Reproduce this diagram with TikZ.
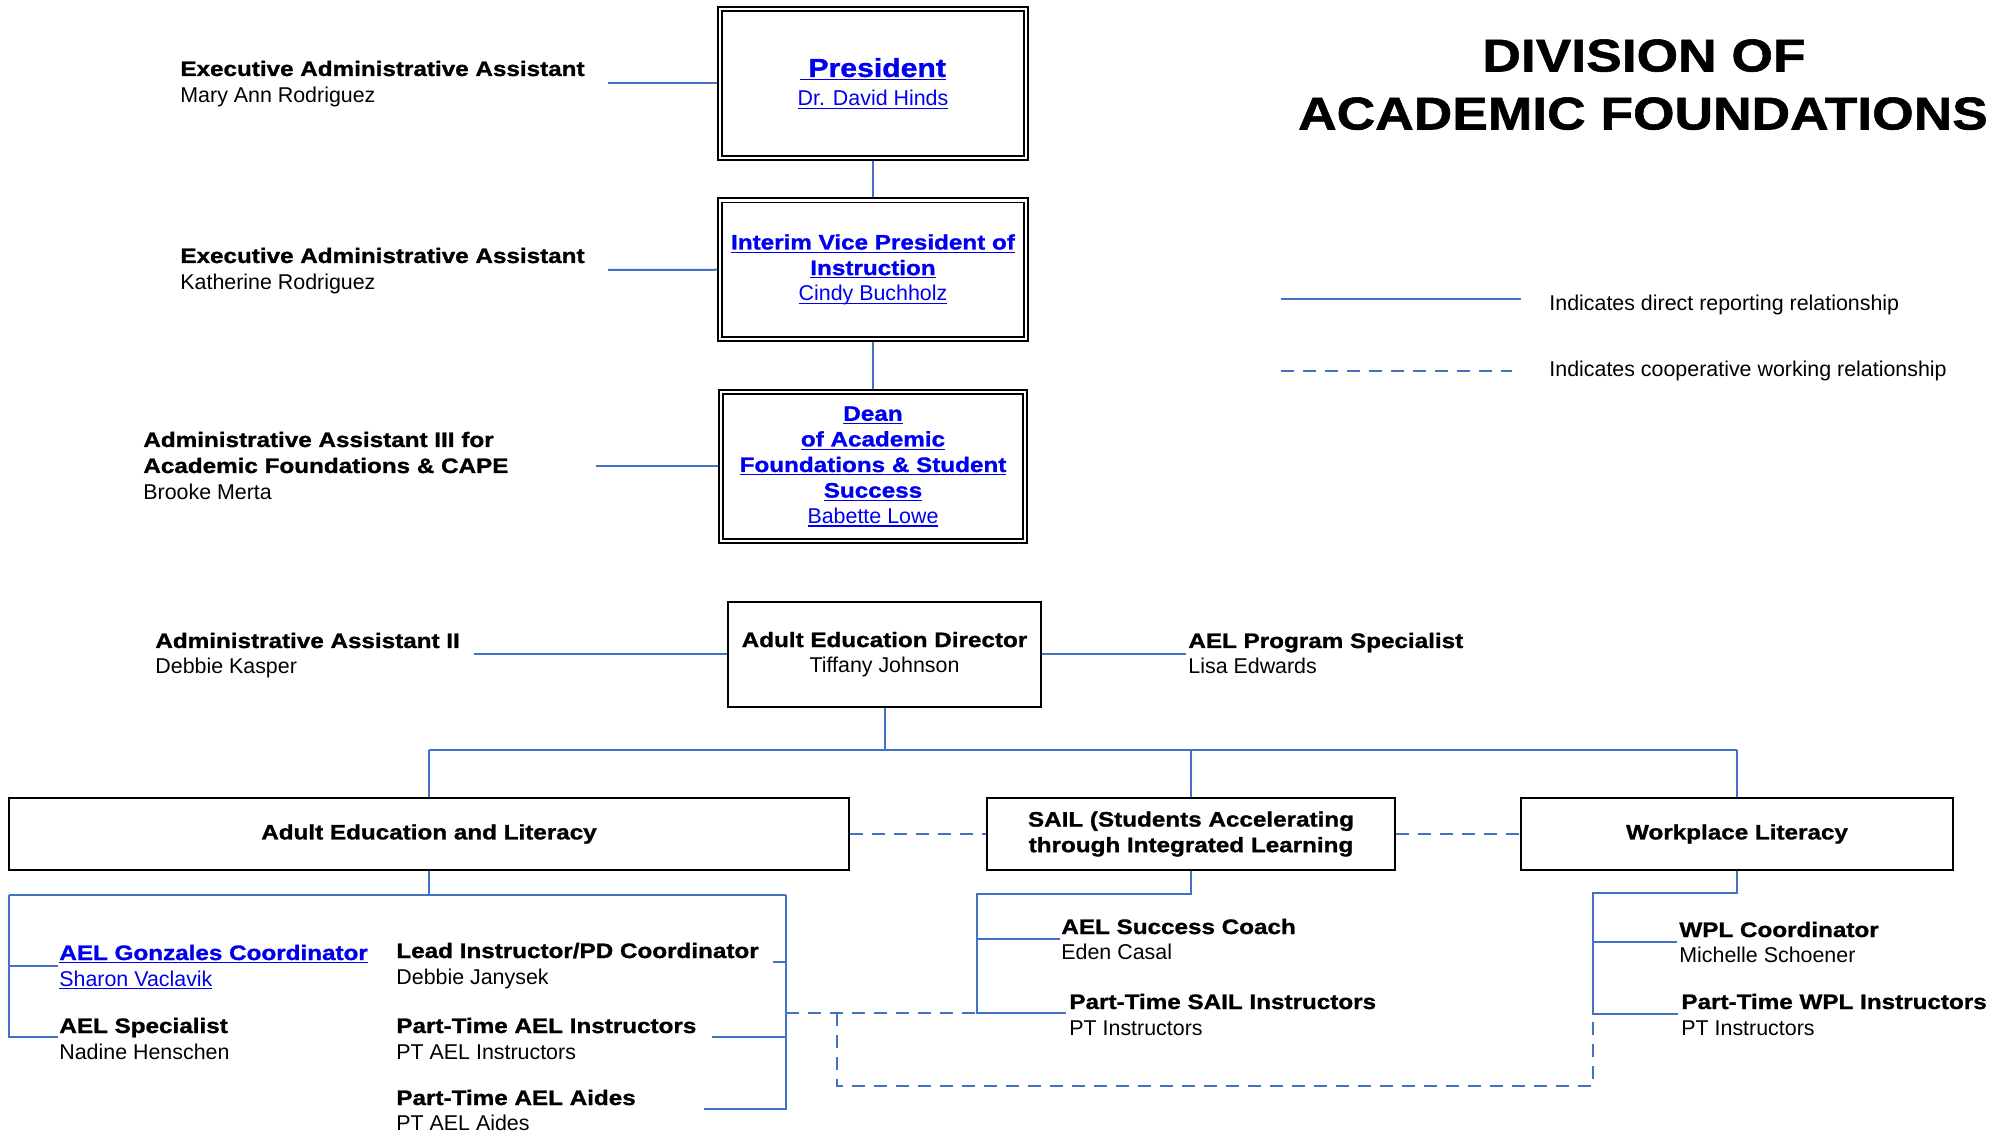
\documentclass[tikz,border=0pt]{standalone}
\usepackage{fontspec}
\setmainfont{Liberation Sans}
\newfontfamily\bfont{Liberation Sans}[FakeStretch=1.16,BoldFeatures={FakeBold=1.2}]
\definecolor{lnblue}{RGB}{68,114,196}
\definecolor{lkblue}{RGB}{0,0,238}
\newcommand\fbld{\bfont\bfseries\fontsize{10.45}{12.8}\selectfont}
\newcommand\freg{\normalfont\fontsize{10.7}{12.8}\selectfont}
\newcommand\ulk[1]{\setbox0\hbox{#1}\rlap{\rule[-1.7pt]{\wd0}{0.6pt}}\box0}
\begin{document}
\begin{tikzpicture}[x=0.5pt,y=-0.5pt,
  conn/.style={draw=lnblue, line width=1pt},
  coop/.style={draw=lnblue, line width=1pt, dash pattern=on 6.5pt off 4.5pt},
  dbox/.style={draw, double, line width=0.9pt, double distance=1.2pt, inner sep=0, outer sep=1.5pt, align=center, text=lkblue, font=\fbld},
  sbox/.style={draw, line width=1.1pt, inner sep=0, outer sep=0.55pt, align=center, font=\fbld},
  ttl/.style={anchor=base west, inner sep=0, font=\fbld},
  nme/.style={anchor=base west, inner sep=0, font=\freg},
  bigt/.style={anchor=base, inner sep=0, font=\bfont\bfseries\fontsize{23}{26}\selectfont}]
\fill[white] (0,0) rectangle (2004,1133);
\useasboundingbox (0,0) rectangle (2004,1133);

% title
\node[bigt] (t1) at (1644,71.5) {DIVISION OF};
\node[bigt] (t2) at (1643,129.5) {ACADEMIC FOUNDATIONS};

% top chain
\node[dbox, minimum width=153pt, minimum height=74.5pt] (pres) at (873,83.5)
  {\ulk{\fontsize{13}{14}\selectfont\ President}\\[1.5pt] {\freg\ulk{Dr. David Hinds}}};
\node[dbox, minimum width=153pt, minimum height=69.25pt] (vp) at (873,269.75)
  {\ulk{Interim Vice President of}\\ \ulk{Instruction}\\ {\freg\ulk{Cindy Buchholz}}};
\node[dbox, minimum width=152pt, minimum height=74.5pt] (dean) at (873,466.5)
  {\ulk{Dean}\\ \ulk{of Academic}\\ \ulk{Foundations \& Student}\\ \ulk{Success}\\ {\freg\ulk{Babette Lowe}}};

% assistants
\node[ttl] (ea1) at (180,76) {Executive Administrative Assistant};
\node[nme] (ea1n) at (180,103) {Mary Ann Rodriguez};
\node[ttl] (ea2) at (180,263) {Executive Administrative Assistant};
\node[nme] (ea2n) at (180,290) {Katherine Rodriguez};
\node[ttl] (aa3a) at (143,447) {Administrative Assistant III for};
\node[ttl] (aa3b) at (143,473) {Academic Foundations \& CAPE};
\node[nme] (aa3n) at (143,500) {Brooke Merta};

% director row
\node[sbox, minimum width=156.5pt, minimum height=52.5pt] (dir) at (884.5,654.5)
  {Adult Education Director\\ {\freg Tiffany Johnson}};
\node[ttl] (aa2) at (155,648) {Administrative Assistant II};
\node[nme] (aa2n) at (155,674) {Debbie Kasper};
\node[ttl] (aps) at (1188,648) {AEL Program Specialist};
\node[nme] (apsn) at (1188,674) {Lisa Edwards};

% programme boxes
\node[sbox, minimum width=420pt, minimum height=36pt] (ael) at (429,834) {Adult Education and Literacy};
\node[sbox, minimum width=204pt, minimum height=36pt] (sail) at (1191,834) {SAIL (Students Accelerating\\ through Integrated Learning};
\node[sbox, minimum width=216pt, minimum height=36pt] (wpl) at (1737,834) {Workplace Literacy};

% AEL staff
\node[ttl, text=lkblue] (gon) at (59,960) {\ulk{AEL Gonzales Coordinator}};
\node[nme, text=lkblue] (gonn) at (59,986) {\ulk{Sharon Vaclavik}};
\node[ttl] (spec) at (59,1033) {AEL Specialist};
\node[nme] (specn) at (59,1059) {Nadine Henschen};
\node[ttl] (lead) at (396,958) {Lead Instructor/PD Coordinator};
\node[nme] (leadn) at (396,984) {Debbie Janysek};
\node[ttl] (ptai) at (396,1033) {Part-Time AEL Instructors};
\node[nme] (ptain) at (396,1059) {PT AEL Instructors};
\node[ttl] (ptad) at (396,1105) {Part-Time AEL Aides};
\node[nme] (ptadn) at (396,1130) {PT AEL Aides};

% SAIL staff
\node[ttl] (sc) at (1061,934) {AEL Success Coach};
\node[nme] (scn) at (1061,959) {Eden Casal};
\node[ttl] (pts) at (1069,1009) {Part-Time SAIL Instructors};
\node[nme] (ptsn) at (1069,1035) {PT Instructors};

% WPL staff
\node[ttl] (wc) at (1679,937) {WPL Coordinator};
\node[nme] (wcn) at (1679,962) {Michelle Schoener};
\node[ttl] (ptw) at (1681,1009) {Part-Time WPL Instructors};
\node[nme] (ptwn) at (1681,1035) {PT Instructors};

% legend
\coordinate (l1a) at (1281,299); \coordinate (l1b) at (1521,299);
\coordinate (l2a) at (1281,371); \coordinate (l2b) at (1512,371);
\node[nme] (l1t) at (1549,311) {Indicates direct reporting relationship};
\node[nme] (l2t) at (1549,377) {Indicates cooperative working relationship};
\draw[conn] (l1a) -- (l1b);
\draw[coop] (l2a) -- (l2b);

% coordinates
\coordinate (ea1e) at (608,83.5);
\coordinate (ea2e) at (608,270);
\coordinate (aa3e) at (596,466.5);
\coordinate (aa2e) at (474,654.5);
\coordinate (apse) at (1186,654.5);
\coordinate (busL) at (429,750);
\coordinate (busR) at (1737,750);
\coordinate (aelL) at (9,895);
\coordinate (aelR) at (786,895);
\coordinate (gonE) at (58,966);
\coordinate (specE) at (58,1037);
\coordinate (leadE) at (773,962);
\coordinate (ptaiE) at (712,1037);
\coordinate (ptadE) at (704,1109);
\coordinate (sailJ) at (977,894);
\coordinate (scE) at (1060,939);
\coordinate (ptsE) at (1066,1013);
\coordinate (wplJ) at (1593,893);
\coordinate (wcE) at (1677,942);
\coordinate (ptwE) at (1678,1014);
\coordinate (cp1) at (786,1013);
\coordinate (cp2) at (837,1013);
\coordinate (cp3) at (1593,1086);

% solid connectors
\draw[conn] (pres.south) -- (vp.north);
\draw[conn] (vp.south) -- (dean.north);
\draw[conn] (ea1e) -- (pres.west);
\draw[conn] (ea2e) -- (vp.west);
\draw[conn] (aa3e) -- (dean.west);
\draw[conn] (aa2e) -- (dir.west);
\draw[conn] (dir.east) -- (apse);
\draw[conn] (dir.south) -- (dir.south |- busL);
\draw[conn] (busL) -- (busR);
\draw[conn] (busL) -- (ael.north);
\draw[conn] (sail.north |- busL) -- (sail.north);
\draw[conn] (busR) -- (wpl.north);

\draw[conn] (ael.south) -- (ael.south |- aelL);
\draw[conn] (aelL) -- (aelR);
\draw[conn] (aelL) |- (specE);
\draw[conn] (aelL |- gonE) -- (gonE);
\draw[conn] (aelR) |- (ptadE);
\draw[conn] (aelR |- leadE) -- (leadE);
\draw[conn] (aelR |- ptaiE) -- (ptaiE);

\draw[conn] (sail.south) |- (sailJ) |- (ptsE);
\draw[conn] (sailJ |- scE) -- (scE);

\draw[conn] (wpl.south) |- (wplJ) |- (ptwE);
\draw[conn] (wplJ |- wcE) -- (wcE);

% cooperative (dashed) connectors
\draw[coop] (ael.east) -- (sail.west);
\draw[coop] (sail.east) -- (wpl.west);
\draw[coop] (cp1) -- (sailJ |- cp1);
\draw[coop] (cp2) |- (cp3) -- (wplJ |- ptwE);
\end{tikzpicture}
\end{document}
